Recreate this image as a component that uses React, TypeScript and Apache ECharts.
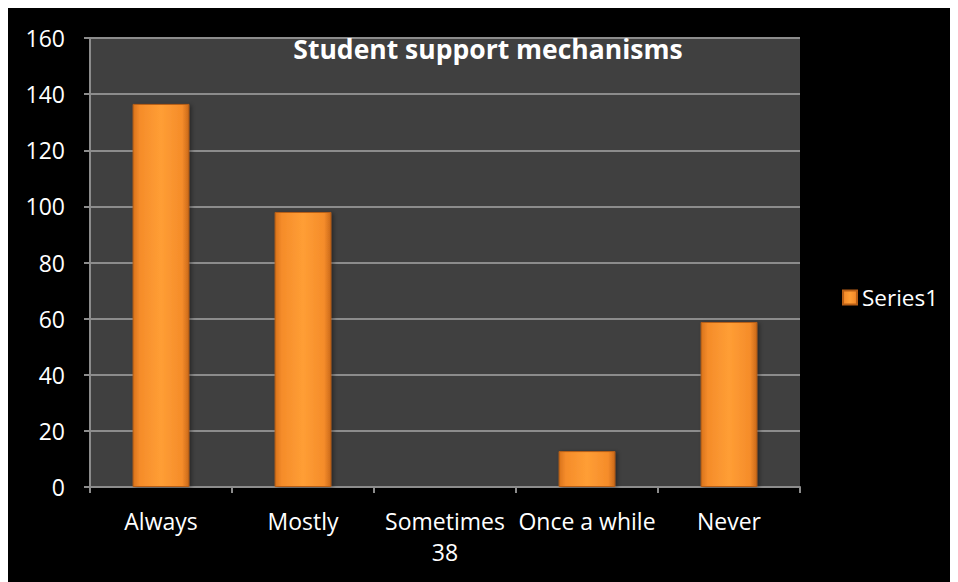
import React, { useEffect, useRef } from "react";
import * as echarts from "echarts";

const categories = ["Always", "Mostly", "Sometimes\n38", "Once a while", "Never"];
const values = [136.5, 98, 0, 12.8, 58.8];
const seriesName = "Series1";
const titleText = "Student support mechanisms";

const FONT = "'Open Sans', 'DejaVu Sans', sans-serif";

export default function App() {
  const ref = useRef<HTMLDivElement>(null);
  useEffect(() => {
    if (!ref.current) return;
    const chart = echarts.init(ref.current, undefined, { renderer: "svg" });
    const barColor = new echarts.graphic.LinearGradient(0, 0, 1, 0, [
      { offset: 0, color: "#D9731C" },
      { offset: 0.12, color: "#F58C2A" },
      { offset: 0.5, color: "#FF9E35" },
      { offset: 0.88, color: "#F58C2A" },
      { offset: 1, color: "#C9681A" },
    ]);
    chart.setOption({
      animation: false,
      backgroundColor: "#000000",
      title: {
        text: titleText,
        left: 475,
        top: 22,
        textAlign: "center",
        textStyle: { color: "#ffffff", fontSize: 26.5, fontWeight: "bold", fontFamily: FONT },
      },
      legend: {
        left: 829,
        top: 273,
        orient: "vertical",
        itemWidth: 14,
        itemHeight: 14,
        itemGap: 8,
        textStyle: { color: "#ffffff", fontSize: 22.5, fontFamily: FONT },
        data: [{ name: seriesName, icon: "rect" }],
      },
      grid: {
        left: 82,
        top: 30,
        right: 158,
        bottom: 95,
        show: true,
        backgroundColor: "#404040",
        borderWidth: 0,
      },
      xAxis: {
        type: "category",
        data: categories,
        axisLine: { show: true, lineStyle: { color: "#8C8C8C", width: 2 } },
        axisTick: { show: true, length: 6, lineStyle: { color: "#8C8C8C", width: 2 } },
        axisLabel: {
          color: "#ffffff",
          fontSize: 23,
          fontFamily: FONT,
          margin: 18,
          lineHeight: 31,
          interval: 0,
        },
        splitLine: { show: false },
      },
      yAxis: {
        type: "value",
        min: 0,
        max: 160,
        interval: 20,
        axisLine: { show: true, lineStyle: { color: "#8C8C8C", width: 2 } },
        axisTick: { show: true, length: 6, lineStyle: { color: "#8C8C8C", width: 2 } },
        axisLabel: { color: "#ffffff", fontSize: 23, fontFamily: FONT, margin: 25 },
        splitLine: { show: true, lineStyle: { color: "#8C8C8C", width: 2 } },
      },
      series: [
        {
          name: seriesName,
          type: "bar",
          data: values,
          barWidth: "40%",
          itemStyle: {
            color: barColor,
            borderColor: "#B85F16",
            borderWidth: 1,
            shadowColor: "rgba(0,0,0,0.4)",
            shadowBlur: 4,
            shadowOffsetX: 2,
            shadowOffsetY: 1,
          },
        },
      ],
    });
    return () => chart.dispose();
  }, []);
  return <div ref={ref} style={{ width: 950, height: 574 }} />;
}
